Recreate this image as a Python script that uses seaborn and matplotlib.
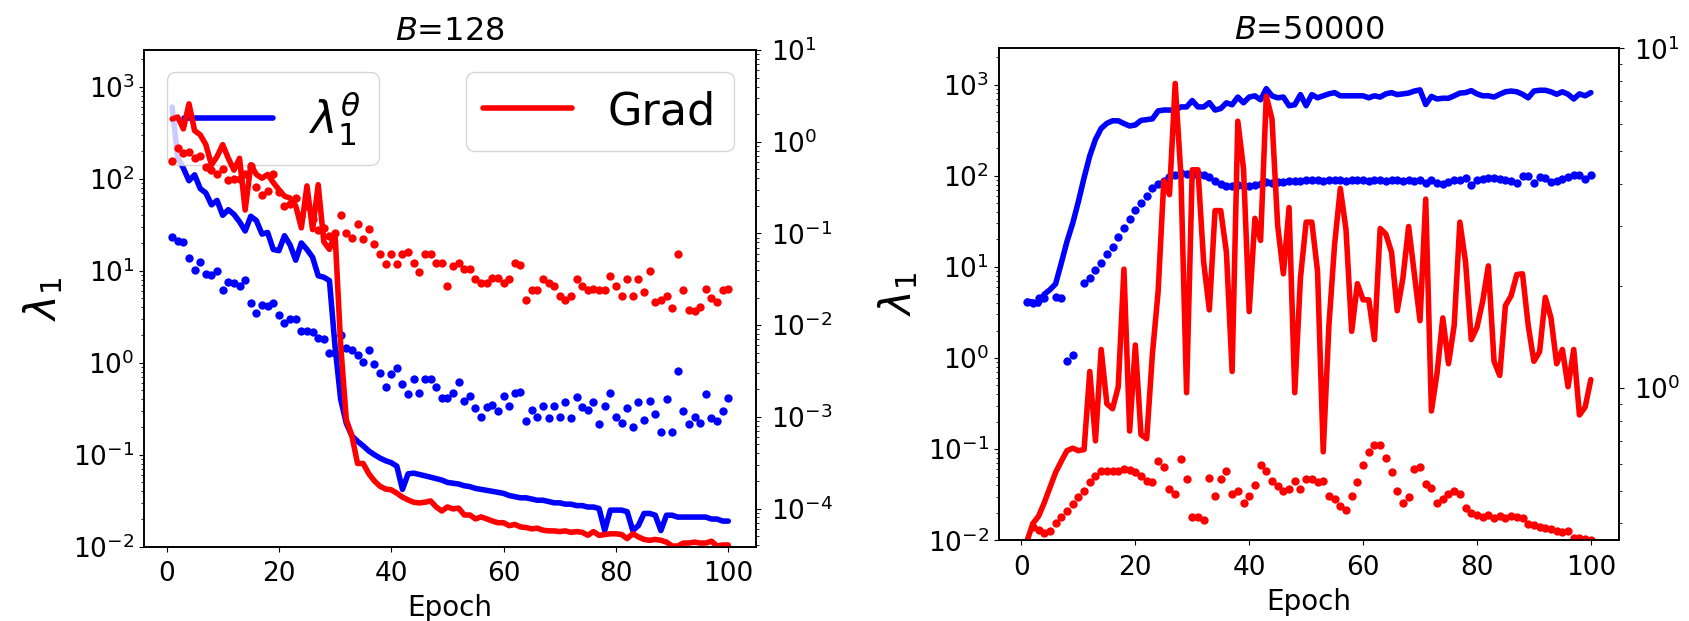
import numpy as np
import pandas as pd
import matplotlib
matplotlib.use("Agg")
import matplotlib.pyplot as plt
import seaborn as sns

nan = np.nan
epochs = np.arange(1, 101)

# ---- B = 128 ----
lam_theta_128 = [600, 170, 130, 95, 110, 78, 70, 52, 58, 40,
                 46, 41, 34, 27, 39, 35, 25, 26, 17, 16.5,
                 24, 19, 13, 20, 17, 14, 8.8, 8.5, 7.8, 1.5,
                 0.4, 0.22, 0.16, 0.14, 0.125, 0.11, 0.1, 0.092, 0.086, 0.082,
                 0.075, 0.042, 0.062, 0.063, 0.061, 0.059, 0.057, 0.055, 0.053, 0.05,
                 0.049, 0.048, 0.046, 0.045, 0.043, 0.042, 0.041, 0.04, 0.039, 0.038,
                 0.036, 0.035, 0.034, 0.034, 0.033, 0.032, 0.032, 0.031, 0.03, 0.03,
                 0.029, 0.029, 0.028, 0.028, 0.027, 0.027, 0.026, 0.015, 0.025, 0.025,
                 0.025, 0.024, 0.015, 0.017, 0.023, 0.023, 0.022, 0.015, 0.022, 0.022,
                 0.021, 0.021, 0.021, 0.021, 0.021, 0.021, 0.02, 0.02, 0.019, 0.019]
lam_128 = [23, 21, 20.6, 13.8, 10.3, 12.3, 9.3, 8.9, 10.0, 6.1,
           7.5, 7.4, 6.8, 7.9, 4.5, 3.5, 4.2, 4.15, 4.4, 3.3,
           2.7, 3.0, 3.0, 2.2, 2.2, 2.15, 1.87, 1.83, 1.28, 1.26,
           2.0, 1.46, 1.39, 1.21, 1.03, 1.39, 0.97, 0.77, 0.55, 0.75,
           0.88, 0.58, 0.46, 0.67, 0.47, 0.66, 0.66, 0.55, 0.41, 0.41,
           0.47, 0.61, 0.38, 0.44, 0.32, 0.255, 0.33, 0.35, 0.30, 0.44,
           0.34, 0.47, 0.48, 0.233, 0.31, 0.26, 0.34, 0.25, 0.34, 0.26,
           0.37, 0.25, 0.42, 0.33, 0.31, 0.37, 0.216, 0.34, 0.47, 0.26,
           0.22, 0.32, 0.20, 0.37, 0.24, 0.38, 0.28, 0.177, 0.40, 0.177,
           0.81, 0.30, 0.216, 0.26, 0.22, 0.46, 0.25, 0.23, 0.30, 0.41]
grad_line_128 = [1.77, 1.86, 1.38, 2.59, 1.32, 1.19, 0.93, 0.56, 0.69, 0.93,
                 0.66, 0.49, 0.66, 0.18, 0.56, 0.44, 0.40, 0.44, 0.36, 0.30,
                 0.255, 0.243, 0.20, 0.115, 0.33, 0.11, 0.34, 0.081, 0.067, 0.099,
                 0.0061, 9.3e-4, 6.2e-4, 3.1e-4, 3.1e-4, 2.4e-4, 2.0e-4, 1.75e-4, 1.63e-4, 1.6e-4,
                 1.47e-4, 1.33e-4, 1.24e-4, 1.17e-4, 1.15e-4, 1.17e-4, 1.21e-4, 1.04e-4, 9.4e-5, 1.04e-4,
                 9.9e-5, 1.01e-4, 8.5e-5, 8.5e-5, 7.7e-5, 8.1e-5, 7.7e-5, 7.3e-5, 7.0e-5, 7.0e-5,
                 6.5e-5, 6.7e-5, 6.3e-5, 6.2e-5, 6.0e-5, 6.1e-5, 5.8e-5, 5.7e-5, 5.7e-5, 5.6e-5,
                 5.7e-5, 5.5e-5, 5.6e-5, 5.5e-5, 5.1e-5, 5.6e-5, 5.1e-5, 5.2e-5, 5.3e-5, 5.3e-5,
                 5.2e-5, 4.7e-5, 5.3e-5, 4.9e-5, 4.6e-5, 4.5e-5, 4.6e-5, 4.5e-5, 4.3e-5, 3.9e-5,
                 3.9e-5, 4.2e-5, 4.2e-5, 4.3e-5, 4.2e-5, 4.2e-5, 4.4e-5, 3.9e-5, 4.0e-5, 4.0e-5]
grad_pts_128 = [0.61, 0.85, 0.76, 0.78, 0.67, 0.70, 0.53, 0.49, 0.45, 0.50,
                0.38, 0.39, 0.39, 0.44, 0.54, 0.32, 0.26, 0.29, 0.45, 0.28,
                0.20, 0.21, 0.245, 0.155, 0.20, 0.145, 0.11, 0.115, 0.094, 0.10,
                0.158, 0.10, 0.090, 0.127, 0.087, 0.113, 0.076, 0.059, 0.047, 0.059,
                0.047, 0.060, 0.062, 0.048, 0.038, 0.059, 0.059, 0.048, 0.048, 0.027,
                0.044, 0.048, 0.041, 0.041, 0.032, 0.029, 0.029, 0.033, 0.033, 0.029,
                0.032, 0.048, 0.045, 0.019, 0.024, 0.024, 0.032, 0.029, 0.027, 0.021,
                0.019, 0.021, 0.032, 0.027, 0.024, 0.025, 0.024, 0.024, 0.034, 0.027,
                0.021, 0.032, 0.021, 0.032, 0.023, 0.039, 0.018, 0.019, 0.021, 0.0153,
                0.060, 0.024, 0.0146, 0.0144, 0.0158, 0.025, 0.020, 0.018, 0.024, 0.025]

# ---- B = 50000 ----
lam_theta_50000 = [4.2, 4.1, 3.9, 5.0, 5.6, 6.5, 11, 19, 30, 52,
                   95, 165, 250, 330, 375, 400, 400, 373, 351, 360,
                   404, 412, 420, 513, 525, 525, 520, 568, 568, 667,
                   568, 568, 633, 525, 545, 630, 600, 729, 630, 729,
                   751, 680, 900, 751, 715, 729, 585, 600, 775, 585,
                   775, 715, 752, 790, 815, 752, 752, 752, 752, 752,
                   715, 752, 729, 790, 815, 775, 790, 806, 848, 873,
                   603, 740, 694, 707, 707, 752, 806, 815, 857, 790,
                   752, 752, 729, 782, 832, 848, 832, 782, 715, 848,
                   865, 865, 832, 782, 832, 782, 694, 790, 752, 815]
lam_50000 = [4.1, 4.0, 4.6, 4.5, nan, 4.7, 4.6, 0.93, 1.08, nan,
             6.6, 7.6, 9.2, 11, 13.7, 16.4, 21, 26.7, 33.6, 42,
             50, 60, 73, 81, 87, 96, 103, 106, 105, 103,
             105, 101, 96, 87, 81, 77, 77, 79, 77, 77,
             79, 81, 84.6, 83, 84.6, 85.6, 86.5, 87, 88, 89,
             89, 90, 88, 89, 90, 89, 88, 89, 90, 89,
             88, 89, 89, 88, 89, 90, 88, 89, 87, 90,
             83, 89.8, 83, 81, 84.6, 89.8, 89.8, 93.5, 79, 89.8,
             91.6, 93.5, 93.5, 91.6, 89.8, 87, 83, 99, 99, 83,
             96, 93.5, 84.6, 87, 91.6, 96, 101, 101, 91.6, 101]
grad_line_50000 = [0.356, 0.40, 0.42, 0.46, 0.51, 0.565, 0.61, 0.655, 0.666, 0.655,
                   0.66, 1.12, 0.70, 1.30, 0.90, 0.87, 1.01, 2.24, 0.748, 1.34,
                   0.73, 0.71, 1.26, 1.92, 4.07, 3.71, 7.88, 4.25, 0.97, 4.39,
                   4.39, 2.35, 1.70, 3.33, 3.33, 2.51, 1.12, 6.1, 4.42, 1.68,
                   3.16, 2.72, 7.23, 6.2, 3.01, 2.17, 3.40, 0.97, 2.11, 3.08,
                   3.08, 2.21, 0.65, 1.53, 2.65, 3.87, 2.93, 1.47, 2.03, 1.82,
                   1.82, 1.39, 2.95, 2.84, 2.51, 1.69, 2.11, 2.99, 2.17, 1.58,
                   3.60, 0.857, 1.11, 1.61, 1.18, 1.53, 3.08, 2.35, 1.39, 1.51,
                   1.80, 2.29, 1.20, 1.09, 1.75, 1.87, 2.16, 2.17, 1.53, 1.20,
                   1.28, 1.85, 1.61, 1.18, 1.30, 1.01, 1.30, 0.834, 0.88, 1.06]
grad_pts_50000 = [nan, 0.39, 0.383, 0.375, 0.38, 0.40, 0.418, 0.435, 0.457, 0.48,
                  0.50, 0.53, 0.55, 0.57, 0.57, 0.57, 0.57, 0.58, 0.575, 0.565,
                  0.55, 0.535, 0.53, 0.61, 0.585, 0.505, 0.488, 0.618, 0.542, 0.417,
                  0.417, 0.409, 0.545, 0.483, 0.54, 0.57, 0.49, 0.497, 0.458, 0.481,
                  0.518, 0.596, 0.57, 0.535, 0.514, 0.50, 0.505, 0.535, 0.505, 0.54,
                  0.54, 0.528, 0.532, 0.481, 0.472, 0.45, 0.438, 0.483, 0.528, 0.596,
                  0.65, 0.682, 0.68, 0.625, 0.565, 0.50, 0.461, 0.477, 0.58, 0.585,
                  0.521, 0.507, 0.458, 0.472, 0.49, 0.497, 0.49, 0.444, 0.43, 0.424,
                  0.418, 0.423, 0.415, 0.42, 0.415, 0.42, 0.418, 0.415, 0.398, 0.395,
                  0.391, 0.388, 0.386, 0.38, 0.378, 0.379, 0.362, 0.362, 0.36, 0.357]

titles = ["$B$=128", "$B$=50000"]

sns.set_style("ticks", rc={"axes.edgecolor": "black", "text.color": "black",
                           "axes.labelcolor": "black", "xtick.color": "black",
                           "ytick.color": "black"})
plt.rcParams["font.family"] = ["DejaVu Sans"]
plt.rcParams["mathtext.fontset"] = "dejavusans"
plt.rcParams["axes.linewidth"] = 1.2

LW = 4
MS = 36

fig = plt.figure(figsize=(16.9, 6.21), dpi=100)
positions = [[0.0854, 0.1196, 0.3620, 0.7998],
             [0.5911, 0.1300, 0.3669, 0.7923]]
panels = [
    (lam_theta_128, lam_128, grad_line_128, grad_pts_128, (3.83e-5, 10)),
    (lam_theta_50000, lam_50000, grad_line_50000, grad_pts_50000, (0.357, 10)),
]

for i, (lt, lp, gl, gp, glim) in enumerate(panels):
    ax = fig.add_axes(positions[i])
    df = pd.DataFrame({"epoch": epochs, "lam_theta": lt, "lam": lp,
                       "grad": gl, "grad_pts": gp})
    sns.lineplot(data=df, x="epoch", y="lam_theta", ax=ax, color="blue",
                 lw=LW, label=r"$\lambda_1^\theta$" if i == 0 else None,
                 legend=False)
    sns.scatterplot(data=df, x="epoch", y="lam", ax=ax, color="blue",
                    s=MS, linewidth=0, legend=False)
    ax.set_yscale("log")
    ax.set_ylim(1e-2, 2500)
    ax.set_xlim(-3.95, 104.95)
    ax.set_xticks([0, 20, 40, 60, 80, 100])
    ax.set_xlabel("Epoch", fontsize=20, labelpad=5)
    ax.set_ylabel(r"$\lambda_1$", fontsize=30, labelpad=6)
    ax.set_title(titles[i], fontsize=23, pad=7)
    ax.tick_params(labelsize=19)
    ax.tick_params(axis="x", pad=7)

    ax2 = ax.twinx()
    sns.lineplot(data=df, x="epoch", y="grad", ax=ax2, color="red",
                 lw=LW, label="Grad" if i == 0 else None, legend=False)
    sns.scatterplot(data=df, x="epoch", y="grad_pts", ax=ax2, color="red",
                    s=MS, linewidth=0, legend=False)
    ax2.set_yscale("log")
    ax2.set_ylim(*glim)
    ax2.set_ylabel("")
    ax2.tick_params(labelsize=19, pad=7)

    if i == 0:
        ax.legend(loc="upper left", fontsize=32)
        ax2.legend(loc="upper right", fontsize=32)

fig.savefig("out.png", dpi=100)
